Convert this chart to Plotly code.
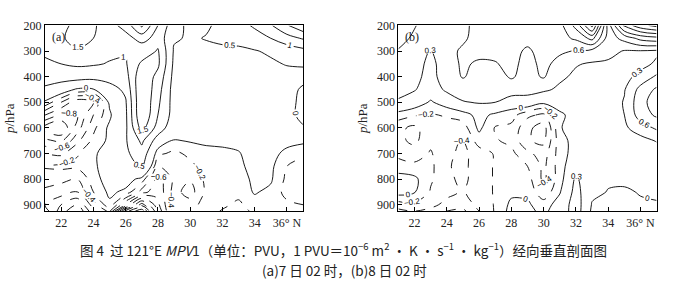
import plotly.graph_objects as go

# latitude (deg N) and pressure (hPa) grid
lat = [21, 22, 23, 24, 25, 26, 27, 28, 29, 30, 31, 32, 33, 34, 35, 36, 37]
pres = [200, 250, 300, 350, 400, 450, 500, 550, 600, 650, 700, 750, 800, 850, 900, 925]

# (a) 7th 02h, MPV1 (PVU), rows follow pres
mpv_a = [
    [1.20, 1.40, 1.60, 1.55, 1.30, 1.70, 2.60, 1.50, 0.65, 0.40, 0.45, 0.60, 0.75, 1.10, 1.45, 1.95, 2.40],
    [1.25, 1.45, 1.65, 1.50, 1.25, 1.30, 1.70, 1.30, 0.55, 0.45, 0.52, 0.58, 0.58, 0.70, 1.00, 1.30, 1.55],
    [1.05, 1.20, 1.45, 1.30, 1.10, 1.05, 1.15, 1.55, 0.45, 0.35, 0.40, 0.42, 0.45, 0.48, 0.55, 0.70, 0.85],
    [0.95, 1.00, 1.08, 1.05, 0.97, 0.95, 1.60, 1.60, 0.40, 0.30, 0.35, 0.35, 0.35, 0.40, 0.45, 0.52, 0.60],
    [0.75, 0.72, 0.70, 0.65, 0.70, 0.80, 1.90, 1.35, 0.35, 0.30, 0.30, 0.30, 0.30, 0.35, 0.40, 0.38, 0.20],
    [0.40, 0.20, -0.05, -0.02, 0.30, 0.60, 2.00, 1.20, 0.30, 0.25, 0.25, 0.25, 0.25, 0.25, 0.28, 0.25, -0.10],
    [-0.05, -0.40, -0.75, -0.60, 0.05, 0.45, 2.00, 1.10, 0.30, 0.25, 0.22, 0.22, 0.22, 0.22, 0.25, 0.20, -0.15],
    [-0.60, -0.85, -0.80, -0.40, -0.05, 0.40, 2.00, 1.00, 0.30, 0.22, 0.20, 0.20, 0.20, 0.20, 0.20, 0.18, -0.15],
    [-1.10, -1.20, -0.70, -0.25, 0.05, 0.40, 1.70, 0.80, 0.15, 0.15, 0.15, 0.15, 0.15, 0.15, 0.15, 0.15, 0.05],
    [-0.75, -0.85, -0.45, -0.15, 0.05, 0.45, 1.10, 0.25, -0.02, 0.02, 0.05, 0.05, 0.08, 0.10, 0.10, 0.10, 0.05],
    [-0.40, -0.45, -0.22, -0.05, 0.15, 0.40, 0.80, -0.15, -0.25, -0.15, -0.08, -0.05, -0.02, 0.12, 0.10, -0.08, -0.15],
    [-0.18, -0.15, -0.15, -0.05, 0.15, 0.30, 0.55, -0.40, -0.30, -0.25, -0.12, -0.10, -0.05, 0.08, 0.05, -0.20, -0.30],
    [-0.30, -0.35, -0.40, -0.10, 0.12, 0.12, -0.08, -0.70, -0.35, -0.38, -0.15, -0.10, -0.10, 0.05, 0.03, -0.25, -0.35],
    [-0.45, -0.50, -0.60, -0.20, 0.05, -0.05, -0.50, -0.75, -0.32, -0.50, -0.15, -0.10, -0.12, 0.02, -0.05, -0.28, -0.30],
    [-0.60, -0.80, -1.00, -0.50, -0.05, -0.80, -1.50, -0.85, -0.30, -0.30, -0.10, -0.15, -0.25, -0.08, -0.10, -0.15, -0.20],
    [-0.50, -0.90, -1.20, -0.65, -0.35, -1.70, -2.20, -0.95, -0.30, -0.25, -0.10, -0.22, -0.30, -0.15, -0.10, -0.10, -0.15],
]

# (b) 8th 02h
mpv_b = [
    [0.80, 0.62, 0.45, 0.50, 0.50, 0.75, 0.80, 0.80, 0.85, 0.85, 0.80, 1.30, 2.20, 0.45, 1.60, 2.00, 2.20],
    [0.70, 0.55, 0.40, 0.50, 0.55, 0.72, 0.75, 0.70, 0.70, 0.85, 0.80, 0.95, 1.30, 0.45, 0.70, 1.00, 1.10],
    [0.58, 0.45, 0.28, 0.50, 0.65, 0.70, 0.68, 0.70, 0.55, 0.72, 0.65, 0.58, 0.50, 0.40, 0.28, 0.28, 0.25],
    [0.50, 0.42, 0.22, 0.45, 0.65, 0.55, 0.58, 0.68, 0.50, 0.68, 0.50, 0.32, 0.27, 0.25, 0.22, 0.20, 0.35],
    [0.45, 0.38, 0.20, 0.45, 0.62, 0.50, 0.50, 0.63, 0.50, 0.63, 0.35, 0.25, 0.22, 0.20, 0.20, 0.40, 0.65],
    [0.35, 0.32, 0.15, 0.35, 0.45, 0.42, 0.42, 0.45, 0.38, 0.35, 0.25, 0.20, 0.18, 0.18, 0.28, 0.70, 0.95],
    [0.28, 0.15, -0.03, 0.12, 0.28, 0.32, 0.30, 0.15, 0.20, 0.05, 0.12, 0.15, 0.15, 0.15, 0.32, 0.80, 1.05],
    [-0.10, -0.18, -0.22, -0.18, -0.10, 0.08, -0.05, -0.12, -0.35, -0.45, -0.05, 0.10, 0.12, 0.12, 0.30, 0.75, 0.95],
    [-0.35, -0.45, -0.28, -0.28, -0.30, 0.05, -0.22, -0.25, -0.55, -0.70, -0.02, 0.12, 0.10, 0.10, 0.25, 0.45, 0.65],
    [-0.35, -0.45, -0.25, -0.32, -0.42, -0.10, -0.18, -0.25, -0.58, -0.65, -0.08, 0.08, 0.08, 0.08, 0.15, 0.20, 0.32],
    [-0.25, -0.30, -0.18, -0.35, -0.45, -0.30, -0.18, -0.15, -0.35, -0.50, -0.10, 0.10, 0.05, 0.05, 0.10, 0.10, 0.15],
    [-0.12, -0.15, -0.15, -0.38, -0.45, -0.30, -0.18, -0.10, -0.20, -0.45, -0.10, 0.20, 0.05, 0.04, 0.05, 0.05, 0.06],
    [0.10, 0.05, -0.17, -0.35, -0.45, -0.30, -0.18, -0.08, -0.12, -0.45, -0.10, 0.35, 0.05, 0.03, 0.03, 0.03, 0.04],
    [0.10, 0.02, -0.22, -0.35, -0.42, -0.30, -0.18, -0.05, -0.05, -0.35, -0.02, 0.40, 0.06, -0.01, -0.02, 0.01, 0.02],
    [-0.30, -0.25, -0.35, -0.45, -0.50, -0.35, -0.18, 0.05, 0.03, -0.10, 0.10, 0.45, -0.02, -0.05, -0.05, -0.02, -0.01],
    [-0.45, -0.40, -0.45, -0.60, -0.65, -0.40, -0.18, 0.08, 0.05, -0.05, 0.12, 0.45, -0.05, -0.08, -0.05, -0.05, -0.03],
]

x_ticks = [22, 24, 26, 28, 30, 32, 34, 36]
x_ticktext = ["22", "24", "26", "28", "30", "32", "34", "36° N"]
y_ticks = [200, 300, 400, 500, 600, 700, 800, 900]

W, H = 680, 285
SERIF = "Liberation Serif, Times New Roman, serif"
CJK = "Noto Sans CJK SC, sans-serif"

fig = go.Figure()


def add_panel(z, xa, ya, pos_size, pos_end, neg_start):
    lab = dict(size=8, color="black", family="Liberation Sans, Arial")
    fig.add_trace(go.Contour(
        x=lat, y=pres, z=z, xaxis=xa, yaxis=ya, autocontour=False,
        contours=dict(start=0, end=pos_end, size=pos_size, coloring="none",
                      showlabels=True, labelfont=lab),
        line=dict(color="black", width=0.9, smoothing=1.0),
        showscale=False, hoverinfo="skip"))
    fig.add_trace(go.Contour(
        x=lat, y=pres, z=z, xaxis=xa, yaxis=ya, autocontour=False,
        contours=dict(start=neg_start, end=-0.19, size=0.2, coloring="none",
                      showlabels=True, labelfont=lab),
        line=dict(color="black", width=0.9, smoothing=1.0, dash="dash"),
        showscale=False, hoverinfo="skip"))


add_panel(mpv_a, "x", "y", 0.5, 3.0, -2.2)
add_panel(mpv_b, "x2", "y2", 0.3, 2.4, -0.8)

ydom = [1 - 210 / H, 1 - 19 / H]
common_x = dict(range=[21, 37], tickvals=x_ticks, ticktext=x_ticktext, ticks="inside",
                ticklen=4, tickcolor="black", showline=True, linecolor="black",
                linewidth=1, mirror=True, showgrid=False, zeroline=False,
                tickfont=dict(family=SERIF, size=12, color="#222"))
common_y = dict(range=[925, 200], tickvals=y_ticks, ticks="inside", ticklen=4,
                tickcolor="black", showline=True, linecolor="black", linewidth=1,
                mirror=True, showgrid=False, zeroline=False, domain=ydom,
                tickfont=dict(family=SERIF, size=12, color="#222"),
                title=dict(text="<i>p</i>/hPa", font=dict(family=SERIF, size=13, color="#222"),
                           standoff=6))

fig.update_layout(
    width=W, height=H, margin=dict(l=0, r=0, t=0, b=0),
    paper_bgcolor="white", plot_bgcolor="white", showlegend=False,
    xaxis=dict(domain=[45 / W, 303 / W], anchor="y", **common_x),
    yaxis=dict(anchor="x", **common_y),
    xaxis2=dict(domain=[398.3 / W, 656.7 / W], anchor="y2", **common_x),
    yaxis2=dict(anchor="x2", **common_y),
)

anns = [
    dict(text="(a)", x=50 / W, y=1 - 31 / H, xanchor="left", yanchor="middle",
         font=dict(family=SERIF, size=12, color="#222")),
    dict(text="(b)", x=403 / W, y=1 - 31 / H, xanchor="left", yanchor="middle",
         font=dict(family=SERIF, size=12, color="#222")),
    dict(text="图 4  过 121°E <i>MPV</i>1（单位：PVU，1 PVU＝10<sup>−6</sup> m<sup>2</sup> • K • s<sup>−1</sup> • kg<sup>−1</sup>）经向垂直剖面图",
         x=343 / W, y=1 - 250 / H, xanchor="center", yanchor="middle",
         font=dict(family=CJK, size=13.5, color="#222")),
    dict(text="(a)7 日 02 时，(b)8 日 02 时", x=344 / W, y=1 - 271 / H,
         xanchor="center", yanchor="middle", font=dict(family=CJK, size=13.5, color="#222")),
]
for a in anns:
    a.update(xref="paper", yref="paper", showarrow=False)
fig.update_layout(annotations=anns)

fig.write_html("out.html")
